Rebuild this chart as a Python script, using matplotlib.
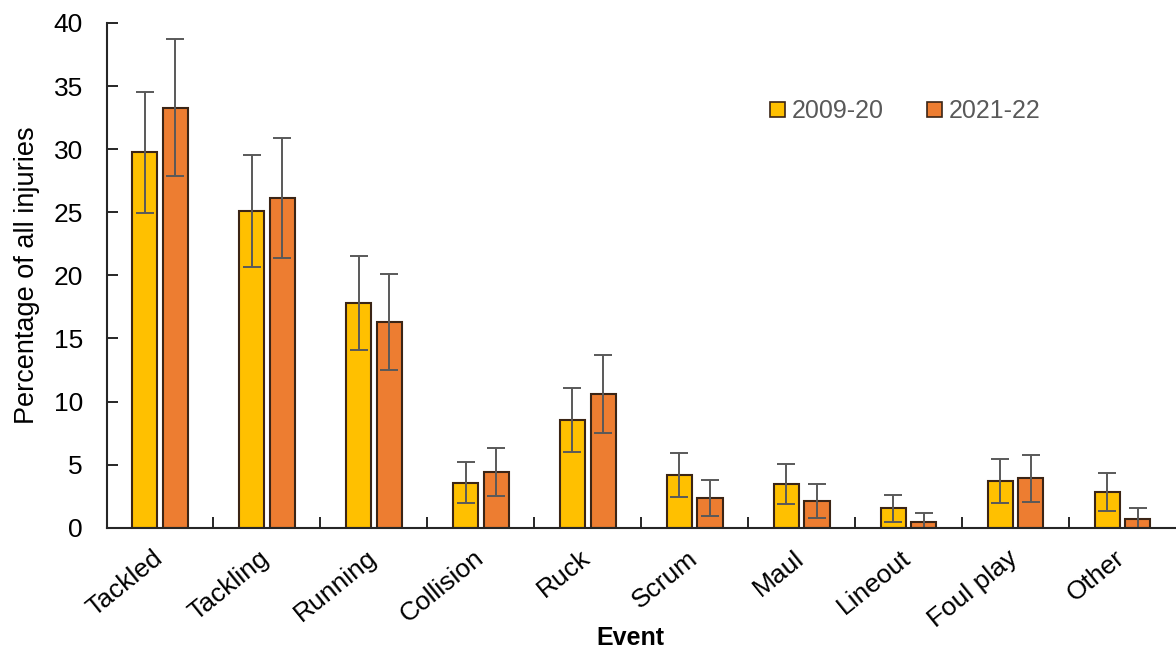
import matplotlib
matplotlib.use("Agg")
import matplotlib.pyplot as plt
import matplotlib.transforms as mtransforms
import numpy as np

plt.rcParams['font.family'] = ['Liberation Sans', 'DejaVu Sans']

categories = ["Tackled", "Tackling", "Running", "Collision", "Ruck", "Scrum",
              "Maul", "Lineout", "Foul play", "Other"]
series_names = ["2009-20", "2021-22"]
vals_2009 = [29.75, 25.1, 17.8, 3.57, 8.56, 4.18, 3.44, 1.54, 3.7, 2.85]
err_2009 = [4.8, 4.45, 3.75, 1.65, 2.55, 1.77, 1.6, 1.07, 1.72, 1.5]
vals_2021 = [33.3, 26.15, 16.27, 4.39, 10.6, 2.35, 2.14, 0.48, 3.91, 0.69]
err_2021 = [5.4, 4.75, 3.8, 1.9, 3.1, 1.43, 1.35, 0.7, 1.85, 0.85]

yellow = "#FFC000"
orange = "#ED7D31"
edge = "#3B2516"
errc = "#595959"

fig = plt.figure(figsize=(11.76, 6.52), dpi=100)
ax = fig.add_axes([106.5/1176, 1 - 527.7/652, (1176 - 106.5)/1176, (527.7 - 23)/652])

x = np.arange(len(categories))
w = 0.235
off = 0.143
ekw = dict(ecolor=errc, elinewidth=1.4, capsize=6.5, capthick=1.4)
ax.bar(x - off, vals_2009, w, color=yellow, edgecolor=edge, linewidth=1.5,
       yerr=err_2009, error_kw=ekw, label=series_names[0], zorder=2)
ax.bar(x + off, vals_2021, w, color=orange, edgecolor=edge, linewidth=1.5,
       yerr=err_2021, error_kw=ekw, label=series_names[1], zorder=2)

ax.set_xlim(-0.5, len(categories) - 0.5)
ax.set_ylim(0, 40)
ax.set_yticks(np.arange(0, 41, 5))
ax.tick_params(axis='y', direction='in', length=8, width=1.4, labelsize=19,
               colors='#262626', labelcolor='black', pad=17)
ax.set_xticks(x)
ax.set_xticklabels(categories, rotation=39, ha='right', rotation_mode='anchor', fontsize=19)
ax.tick_params(axis='x', which='major', length=0, pad=13)
shift = mtransforms.ScaledTranslation(-8/100, 0, fig.dpi_scale_trans)
for lab in ax.get_xticklabels():
    lab.set_transform(lab.get_transform() + shift)
ax.set_xticks(np.arange(0.5, len(categories) - 0.5, 1), minor=True)
ax.tick_params(axis='x', which='minor', direction='in', length=8, width=1.4, colors='#262626')

for s in ['top', 'right']:
    ax.spines[s].set_visible(False)
for s in ['left', 'bottom']:
    ax.spines[s].set_linewidth(1.5)
    ax.spines[s].set_color('#262626')

ax.set_ylabel("Percentage of all injuries", fontsize=19.5, labelpad=10)
ax.set_xlabel("Event", fontsize=18, fontweight='bold')
ax.xaxis.label.set_va('center')
ax.xaxis.set_label_coords((630 - 106.5)/1069.5, (527.7 - 638)/504.7)

leg = fig.legend(loc='center left', bbox_to_anchor=(770/1176, 1 - 111/652), ncol=2,
                 frameon=False, fontsize=18, handlelength=0.6, handleheight=0.55,
                 handletextpad=0.28, columnspacing=1.7, borderpad=0, borderaxespad=0,
                 labelcolor='#595959')
for h in leg.legend_handles:
    h.set_linewidth(1.2)

fig.savefig("out.png", dpi=100)
